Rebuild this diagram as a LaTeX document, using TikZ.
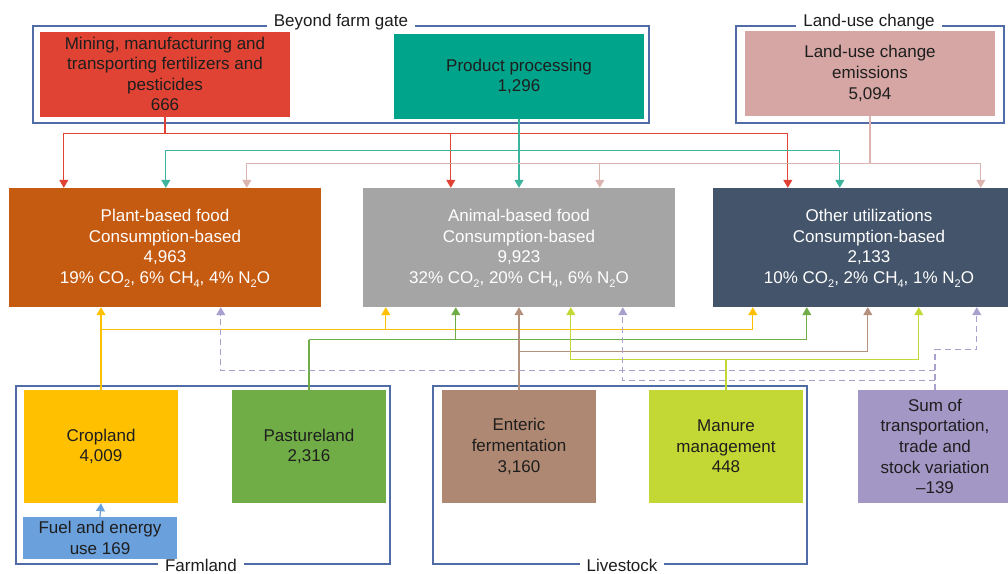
\documentclass[tikz,border=0pt]{standalone}
\usepackage{fontspec}
\setmainfont{Liberation Sans}
\usetikzlibrary{arrows.meta}

\definecolor{fertred}{RGB}{224,67,51}
\definecolor{proteal}{RGB}{0,164,138}
\definecolor{lucpink}{RGB}{213,166,163}
\definecolor{plantor}{RGB}{197,90,17}
\definecolor{animgr}{RGB}{165,165,165}
\definecolor{othblue}{RGB}{68,84,106}
\definecolor{cropyel}{RGB}{255,192,0}
\definecolor{pastgrn}{RGB}{112,173,71}
\definecolor{fuelblu}{RGB}{106,160,220}
\definecolor{entbrn}{RGB}{174,136,114}
\definecolor{manlime}{RGB}{195,216,52}
\definecolor{sumpur}{RGB}{163,151,198}
\definecolor{framebl}{RGB}{79,108,166}
\definecolor{tealln}{RGB}{60,180,158}
\definecolor{pinkln}{RGB}{220,180,176}
\definecolor{brownln}{RGB}{180,145,125}
\definecolor{purln}{RGB}{170,160,205}
\definecolor{ink}{RGB}{30,30,30}

\newcommand{\gsub}[1]{\raisebox{-4pt}[0pt][0pt]{\fontsize{11}{11}\selectfont #1}}

\begin{document}
\begin{tikzpicture}[x=1pt, y=-1pt,
    box/.style={rectangle, inner sep=0pt, align=center, text=ink,
        font=\fontsize{17}{20.6}\selectfont},
    topbox/.style={box, minimum width=250, minimum height=85},
    mainbox/.style={box, minimum width=312, minimum height=119, text=white},
    lowbox/.style={box, minimum width=154, minimum height=113},
    grpframe/.style={framebl, line width=1.2pt},
    grplabel/.style={anchor=base, fill=white, inner xsep=7pt, text=ink,
        font=\fontsize{17}{20.6}\selectfont},
    line/.style={line width=1.2pt},
    conn/.style={line width=1.2pt, -{Triangle[length=8pt, width=9pt]}},
    dconn/.style={conn, purln, dash pattern=on 6pt off 4pt}]

    \useasboundingbox (0,0) rectangle (1008,573);
    \clip (0,0) rectangle (1008,573);

    %%%%%%%%%%%%%%%%%%%%%%%%%%%%%%
    \draw[grpframe] (33,26) rectangle (649,123);
    \draw[grpframe] (736,26) rectangle (1004,123);
    \draw[grpframe] (16,386) rectangle (390,564);
    \draw[grpframe] (433,386) rectangle (807,564);

    \node[grplabel] (gate) at (341,26) {Beyond farm gate};
    \node[grplabel] (lucg) at (869,26) {Land-use change};
    \node[grplabel] (farm) at (201,571) {Farmland};
    \node[grplabel] (live) at (622,571) {Livestock};

    %%%%%%%%%%%%%%%%%%%%%%%%%%%%%%
    \node[topbox, fill=fertred] (fert) at (165,74)
        {Mining, manufacturing and\\transporting fertilizers and\\pesticides\\666};
    \node[topbox, fill=proteal] (proc) at (519,76.5) {Product processing\\1,296};
    \node[topbox, fill=lucpink] (luc) at (870,73.5)
        {Land-use change\\emissions\\5,094};

    \node[mainbox, fill=plantor] (plant) at (165,247.5)
        {Plant-based food\\Consumption-based\\4,963\\
         19\% CO\gsub{2}, 6\% CH\gsub{4}, 4\% N\gsub{2}O};
    \node[mainbox, fill=animgr] (animal) at (519,247.5)
        {Animal-based food\\Consumption-based\\9,923\\
         32\% CO\gsub{2}, 20\% CH\gsub{4}, 6\% N\gsub{2}O};
    \node[mainbox, fill=othblue] (other) at (869,247.5)
        {Other utilizations\\Consumption-based\\2,133\\
         10\% CO\gsub{2}, 2\% CH\gsub{4}, 1\% N\gsub{2}O};

    \node[lowbox, fill=cropyel] (crop) at (101,446.5) {Cropland\\4,009};
    \node[box, fill=fuelblu, minimum width=154, minimum height=42] (fuel)
        at (100,538) {Fuel and energy\\use 169};
    \node[lowbox, fill=pastgrn] (past) at (309,446.5) {Pastureland\\2,316};
    \node[lowbox, fill=entbrn] (ent) at (519,446.5) {Enteric\\fermentation\\3,160};
    \node[lowbox, fill=manlime] (man) at (726,446.5) {Manure\\management\\448};
    \node[lowbox, fill=sumpur] (sum) at (935,446.5)
        {Sum of\\transportation,\\trade and\\stock variation\\--139};

    %%%%%%%%%%%%%%%%%%%%%%%%%%%%%%
    % feeds from above
    \path (fert.south) ++(0,17) coordinate (fbus);
    \path (proc.south) ++(0,31) coordinate (pbus);
    \path (luc.south) ++(0,47) coordinate (lbus);

    \draw[line, fertred] (fert.south) -- (fbus);
    \draw[conn, fertred] (fbus) -| ([xshift=55]plant.north west);
    \draw[conn, fertred] (fbus) -| ([xshift=88]animal.north west);
    \draw[conn, fertred] (fbus) -| ([xshift=75]other.north west);

    \draw[conn, tealln] (proc.south) -- (proc.south |- animal.north);
    \draw[conn, tealln] (pbus) -| ([xshift=157]plant.north west);
    \draw[conn, tealln] (pbus) -| ([xshift=127]other.north west);

    \draw[line, pinkln] (luc.south) -- (lbus);
    \draw[conn, pinkln] (lbus) -| ([xshift=238]plant.north west);
    \draw[conn, pinkln] (lbus) -| ([xshift=237]animal.north west);
    \draw[conn, pinkln] (lbus) -| ([xshift=268]other.north west);

    %%%%%%%%%%%%%%%%%%%%%%%%%%%%%%
    % feeds from below
    \path (crop.north) ++(0,-60) coordinate (cbus);
    \path (past.north) ++(0,-50) coordinate (gbus);
    \path (ent.north) ++(0,-38) coordinate (ebus);
    \path (man.north) ++(0,-30) coordinate (mbus);
    \path (sum.north) ++(0,-40) coordinate (sbus);
    \path (sum.north) ++(0,-19) coordinate (sbusa);
    \path (sum.north) ++(0,-9) coordinate (sbusb);

    \draw[conn, fuelblu] (fuel.north) -- (crop.south);

    \draw[conn, cropyel] (crop.north) -- (crop.north |- plant.south);
    \draw[conn, cropyel] (cbus) -| ([xshift=23]animal.south west);
    \draw[conn, cropyel] (cbus) -| ([xshift=40]other.south west);

    \draw[line, pastgrn] (past.north) -- (gbus);
    \draw[conn, pastgrn] (gbus) -| ([xshift=93]animal.south west);
    \draw[conn, pastgrn] (gbus) -| ([xshift=94]other.south west);

    \draw[conn, brownln] (ent.north) -- (ent.north |- animal.south);
    \draw[conn, brownln] (ebus) -| ([xshift=155]other.south west);

    \draw[line, manlime] (man.north) -- (mbus);
    \draw[conn, manlime] (mbus) -| ([xshift=208]animal.south west);
    \draw[conn, manlime] (mbus) -| ([xshift=206]other.south west);

    \draw[dconn] (sum.north) -- (sbus) -| ([xshift=264]other.south west);
    \draw[dconn] (sbusa) -| ([xshift=212]plant.south west);
    \draw[dconn] (sbusb) -| ([xshift=260]animal.south west);
\end{tikzpicture}
\end{document}
